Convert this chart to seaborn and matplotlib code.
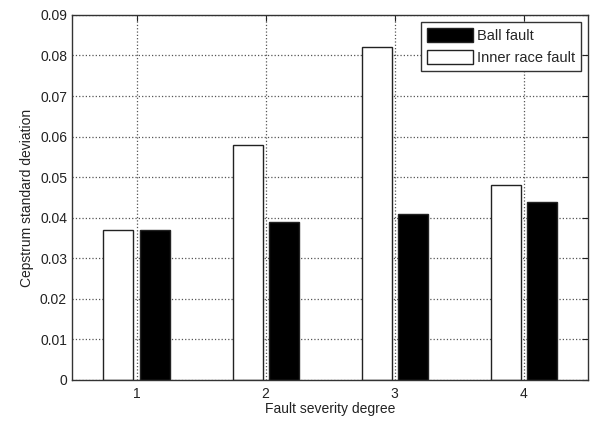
import pandas as pd
import seaborn as sns
import matplotlib.pyplot as plt
from matplotlib.patches import Patch

# Datos
degrees = ["1", "2", "3", "4"]
inner_race = [0.037, 0.058, 0.082, 0.048]
ball = [0.037, 0.039, 0.041, 0.044]

df = pd.DataFrame({
    "degree": degrees * 2,
    "value": inner_race + ball,
    "fault": ["Inner race fault"] * 4 + ["Ball fault"] * 4,
})

sns.set_style("white")
plt.rcParams["font.family"] = ["Liberation Sans", "DejaVu Sans"]

fig = plt.figure(figsize=(5.9, 4.26), dpi=100)
ax = fig.add_axes([0.122, 0.108, 0.875, 0.857])

sns.barplot(data=df, x="degree", y="value", hue="fault",
            hue_order=["Inner race fault", "Ball fault"],
            palette={"Inner race fault": "white", "Ball fault": "black"},
            width=0.56, gap=0.17, edgecolor="#222222", linewidth=1.0,
            legend=False, ax=ax)

ax.set_xlim(-0.5, 3.5)
ax.set_ylim(0, 0.09)
ax.set_yticks([i / 100 for i in range(10)])
ax.set_yticklabels(["0"] + ["0.0%d" % i for i in range(1, 10)])
ax.set_axisbelow(True)
ax.grid(True, linestyle=":", color="#555555", linewidth=0.9)
ax.tick_params(direction="in", top=True, right=True, labelsize=10,
               colors="#222222", length=4)
ax.tick_params(axis="x", pad=5)
for s in ax.spines.values():
    s.set_color("#333333")
    s.set_linewidth(1.0)

ax.set_xlabel("Fault severity degree", fontsize=10, color="#222222", labelpad=1)
ax.set_ylabel("Cepstrum standard deviation", fontsize=10, color="#222222")

handles = [Patch(facecolor="black", edgecolor="#222222", label="Ball fault"),
           Patch(facecolor="white", edgecolor="#222222", label="Inner race fault")]
leg = ax.legend(handles=handles, loc="upper right", fontsize=10.5, fancybox=False,
                framealpha=1, edgecolor="#333333", handlelength=3.15,
                handleheight=1.05, borderaxespad=0.5, handletextpad=0.3,
                labelspacing=0.5, borderpad=0.4)
leg.get_frame().set_linewidth(1.0)

plt.savefig("out.png", dpi=100)
